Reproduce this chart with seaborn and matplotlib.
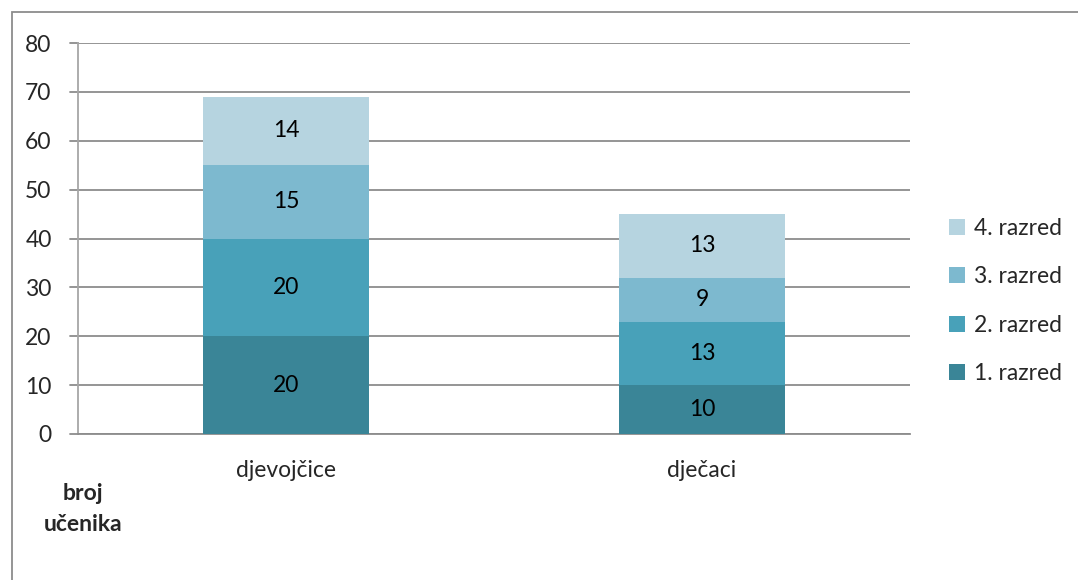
import numpy as np
import pandas as pd
import matplotlib
matplotlib.use("Agg")
import matplotlib.pyplot as plt
import seaborn as sns
from matplotlib.patches import Patch, Rectangle

categories = ["djevojčice", "dječaci"]
series_names = ["1. razred", "2. razred", "3. razred", "4. razred"]
razred1 = [20, 10]
razred2 = [20, 13]
razred3 = [15, 9]
razred4 = [14, 13]
colors = ["#3A8597", "#48A1B9", "#7DB9CF", "#B6D4E0"]
y_ticks = [0, 10, 20, 30, 40, 50, 60, 70, 80]

sns.set_theme(style="white")
plt.rcParams["font.family"] = ["Lato", "DejaVu Sans"]
FS = 16.5

series = [razred1, razred2, razred3, razred4]
cum = np.cumsum(np.array(series, dtype=float), axis=0)

fig = plt.figure(figsize=(10.78, 5.8), dpi=100)
ax = fig.add_axes([78/1078, 1-434/580, (910-78)/1078, (434-43)/580])

# draw from top of stack down so each layer covers the one above
for i in range(3, -1, -1):
    df = pd.DataFrame({"cat": categories, "val": cum[i]})
    sns.barplot(data=df, x="cat", y="val", color=colors[i], saturation=1,
                width=0.4, ax=ax, linewidth=0, zorder=3)

for j in range(len(categories)):
    for i in range(4):
        base = cum[i-1][j] if i > 0 else 0
        ax.text(j, base + series[i][j] / 2, str(series[i][j]), ha="center", va="center",
                fontsize=FS, color="black", zorder=5)

ax.set_xlim(-0.5, 1.5)
ax.set_ylim(0, 80)
ax.set_yticks(y_ticks)
ax.set_yticklabels([str(v) for v in y_ticks], fontsize=FS)
ax.yaxis.grid(True, color="#8C8C8C", linewidth=1.3, zorder=0)
ax.set_axisbelow(True)
ax.set_xlabel("")
ax.set_ylabel("")
ax.set_xticks([0, 1])
ax.set_xticklabels(categories, fontsize=FS)
ax.tick_params(axis="x", length=0, pad=19)
ax.tick_params(axis="y", length=0, pad=19)
# category boundary tick marks
ax.set_xticks([-0.5, 0.5, 1.5], minor=True)
ax.tick_params(axis="x", which="minor", length=7, color="#8C8C8C", width=1.3, direction="out")
for s in ["top", "right"]:
    ax.spines[s].set_visible(False)
for s in ["left", "bottom"]:
    ax.spines[s].set_color("#8C8C8C")
    ax.spines[s].set_linewidth(1.3)
ax.spines["left"].set_color("#A6A6A6")
for yv in y_ticks:
    ax.plot([-0.5 - 0.02, -0.5], [yv, yv], color="#8C8C8C", lw=1.3, clip_on=False, zorder=2)

handles = [Patch(facecolor=colors[i], edgecolor="none") for i in range(3, -1, -1)]
labels = [series_names[i] for i in range(3, -1, -1)]
leg = fig.legend(handles, labels, loc="center left", bbox_to_anchor=(949/1078, 1-301/580),
                 frameon=False, fontsize=FS, handlelength=0.7, handleheight=0.7,
                 handletextpad=0.4, labelspacing=1.2, borderpad=0, borderaxespad=0)

fig.text(83/1078, 1-509/580, "broj\nučenika", ha="center", va="center",
         fontsize=FS, fontweight="bold", linespacing=1.55)

# outer chart frame
fig.patches.append(Rectangle((12/1078, -0.05), 1.2, 1 - 12/580 + 0.05, transform=fig.transFigure,
                             fill=False, edgecolor="#8C8C8C", linewidth=1.3))

fig.savefig("out.png", dpi=100)
